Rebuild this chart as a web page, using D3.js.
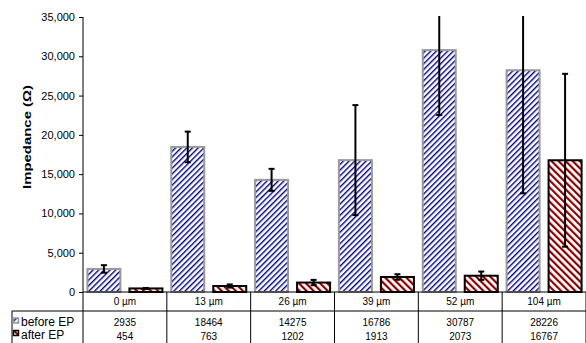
<!DOCTYPE html>
<html>
<head>
<meta charset="utf-8">
<script src="https://cdn.jsdelivr.net/npm/d3@7"></script>
<style>
  html, body { margin: 0; padding: 0; background: #fff; }
  svg { display: block; font-family: "Liberation Sans", Arial, sans-serif; }
</style>
</head>
<body>
<svg id="chart" width="586" height="343"></svg>
<script>
// Electrode thickness groups and mean impedance before / after electropolishing
const categories = ["0 µm", "13 µm", "26 µm", "39 µm", "52 µm", "104 µm"];
const beforeEP = [2935, 18464, 14275, 16786, 30787, 28226];
const afterEP = [454, 763, 1202, 1913, 2073, 16767];
// Standard deviations (error bars)
const beforeErr = [480, 1950, 1400, 7000, 8260, 15670];
const afterErr = [60, 200, 340, 350, 530, 11000];
const seriesNames = ["before EP", "after EP"];
const yTicks = [0, 5000, 10000, 15000, 20000, 25000, 30000, 35000];

const svg = d3.select("#chart");
const plot = { left: 83, right: 586, top: 17, bottom: 292 };

const x = d3.scaleBand().domain(categories).range([plot.left, plot.right]);
const xInner = d3.scaleBand().domain(seriesNames)
  .range([0, x.bandwidth()]).paddingInner(0.214).paddingOuter(0.105);
const y = d3.scaleLinear().domain([0, 35000]).range([plot.bottom, plot.top]);

// Hatch patterns
const defs = svg.append("defs");
const blue = defs.append("pattern").attr("id", "hatchBlue")
  .attr("patternUnits", "userSpaceOnUse").attr("width", 4).attr("height", 4)
  .attr("patternTransform", "rotate(45)");
blue.append("rect").attr("width", 4).attr("height", 4).attr("fill", "#fff");
blue.append("rect").attr("width", 1.4).attr("height", 4).attr("fill", "#000080");

const red = defs.append("pattern").attr("id", "hatchRed")
  .attr("patternUnits", "userSpaceOnUse").attr("width", 5).attr("height", 5)
  .attr("patternTransform", "rotate(-45)");
red.append("rect").attr("width", 5).attr("height", 5).attr("fill", "#fff");
red.append("rect").attr("width", 2.2).attr("height", 5).attr("fill", "#8b0000");

defs.append("clipPath").attr("id", "plotClip").append("rect")
  .attr("x", plot.left).attr("y", plot.top - 1)
  .attr("width", plot.right - plot.left).attr("height", plot.bottom - plot.top + 1);

const series = [
  { name: "before EP", values: beforeEP, errs: beforeErr, fill: "url(#hatchBlue)", stroke: "#9a9a9a" },
  { name: "after EP", values: afterEP, errs: afterErr, fill: "url(#hatchRed)", stroke: "#000" }
];

// Bars
series.forEach(s => {
  svg.append("g").selectAll("rect").data(categories).join("rect")
    .attr("x", (c) => x(c) + xInner(s.name))
    .attr("y", (c, i) => y(s.values[i]))
    .attr("width", xInner.bandwidth())
    .attr("height", (c, i) => y(0) - y(s.values[i]))
    .attr("fill", s.fill)
    .attr("stroke", s.stroke)
    .attr("stroke-width", 2);
});

// Error bars
const eg = svg.append("g").attr("clip-path", "url(#plotClip)")
  .attr("stroke", "#000").attr("stroke-width", 2);
series.forEach(s => {
  categories.forEach((c, i) => {
    const cx = x(c) + xInner(s.name) + xInner.bandwidth() / 2;
    const hi = s.values[i] + s.errs[i];
    const lo = s.values[i] - s.errs[i];
    eg.append("line").attr("x1", cx).attr("x2", cx).attr("y1", y(hi)).attr("y2", y(lo));
    [hi, lo].forEach(v => {
      eg.append("line").attr("x1", cx - 3).attr("x2", cx + 3).attr("y1", y(v)).attr("y2", y(v));
    });
  });
});

// Y axis
const yAxis = svg.append("g").attr("transform", `translate(${plot.left},0)`)
  .call(d3.axisLeft(y).tickValues(yTicks).tickSize(4).tickPadding(4)
    .tickFormat(d3.format(",")));
yAxis.select(".domain").remove();
yAxis.selectAll("line").attr("stroke", "#000");
yAxis.selectAll("text").attr("font-size", 11).attr("fill", "#000")
  .attr("font-family", "Liberation Sans, Arial, sans-serif");
svg.append("line").attr("x1", plot.left).attr("x2", plot.left)
  .attr("y1", plot.top).attr("y2", 343).attr("stroke", "#000");

svg.append("text")
  .attr("transform", `translate(30.5,137) rotate(-90)`)
  .attr("text-anchor", "middle").attr("font-weight", "bold").attr("font-size", 10.5)
  .attr("textLength", 104).attr("lengthAdjust", "spacingAndGlyphs")
  .text("Impedance (Ω)");

// Data table under the plot
const tbl = svg.append("g").attr("stroke", "#000").attr("stroke-width", 1);
tbl.append("line").attr("x1", plot.left).attr("x2", plot.right)
  .attr("y1", plot.bottom).attr("y2", plot.bottom);
tbl.append("line").attr("x1", 12).attr("x2", plot.right).attr("y1", 311).attr("y2", 311);
tbl.append("line").attr("x1", 12).attr("x2", 12).attr("y1", 311).attr("y2", 343);
categories.forEach(c => {
  tbl.append("line").attr("x1", x(c) + x.bandwidth()).attr("x2", x(c) + x.bandwidth())
    .attr("y1", plot.bottom).attr("y2", 343);
});

const tt = svg.append("g").attr("font-size", 10).attr("fill", "#000").attr("text-anchor", "middle");
categories.forEach((c, i) => {
  const cx = x(c) + x.bandwidth() / 2;
  tt.append("text").attr("x", cx).attr("y", 305).text(c);
  tt.append("text").attr("x", cx).attr("y", 326).text(beforeEP[i]);
  tt.append("text").attr("x", cx).attr("y", 339.5).text(afterEP[i]);
});

// Legend keys inside the table
series.forEach((s, k) => {
  const yy = 318 + k * 12.5;
  svg.append("rect").attr("x", 13.5).attr("y", yy).attr("width", 5).attr("height", 5)
    .attr("fill", s.fill).attr("stroke", s.stroke).attr("stroke-width", 1.5);
  svg.append("text").attr("x", 21).attr("y", yy + 8).attr("font-size", 12)
    .attr("fill", "#000").text(s.name);
});
</script>
</body>
</html>
